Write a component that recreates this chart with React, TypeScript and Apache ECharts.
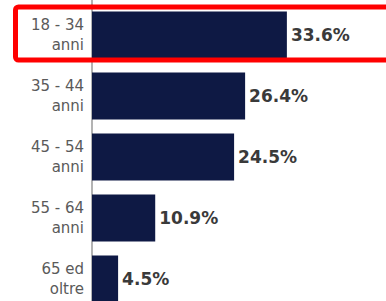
import React, { useEffect, useRef } from "react";
import * as echarts from "echarts";

const categories = ["18 - 34\nanni", "35 - 44\nanni", "45 - 54\nanni", "55 - 64\nanni", "65 ed\noltre"];
const values = [33.6, 26.4, 24.5, 10.9, 4.5];

export default function App() {
  const ref = useRef<HTMLDivElement>(null);
  useEffect(() => {
    if (!ref.current) return;
    const chart = echarts.init(ref.current, null, { renderer: "svg" });
    chart.setOption({
      animation: false,
      backgroundColor: "#ffffff",
      grid: {
        left: 92,
        top: 4.5,
        width: 290,
        height: 305,
        containLabel: false,
        outerBoundsMode: "none",
      },
      xAxis: {
        type: "value",
        min: 0,
        max: 50,
        show: false,
      },
      yAxis: {
        type: "category",
        data: categories,
        inverse: true,
        axisLine: { show: true, lineStyle: { color: "#9a9a9a", width: 1.5 } },
        axisTick: { show: false },
        axisLabel: {
          margin: 8,
          color: "#5a5a5a",
          fontSize: 15,
          lineHeight: 20,
          fontFamily: "DejaVu Sans",
          align: "right",
        },
      },
      series: [
        {
          type: "bar",
          data: values,
          barWidth: 47,
          itemStyle: { color: "#0e1944" },
          label: {
            show: true,
            position: "right",
            distance: 4,
            color: "#3a3a3a",
            fontSize: 17,
            fontWeight: "bold",
            fontFamily: "DejaVu Sans",
            formatter: (p: any) => `${Number(p.value).toFixed(1)}%`,
          },
        },
      ],
      graphic: [
        {
          type: "line",
          shape: { x1: 92, y1: 0, x2: 92, y2: 5 },
          style: { stroke: "#9a9a9a", lineWidth: 1.5 },
          z: 1,
        },
        {
          type: "rect",
          shape: { x: 15.5, y: 7, width: 400, height: 53, r: 3 },
          style: { fill: "none", stroke: "#ff0000", lineWidth: 5 },
          z: 100,
        },
      ],
    });
    return () => chart.dispose();
  }, []);
  return (
    <div
      ref={ref}
      style={{ position: "fixed", left: 0, top: 0, width: 386, height: 301 }}
    />
  );
}
